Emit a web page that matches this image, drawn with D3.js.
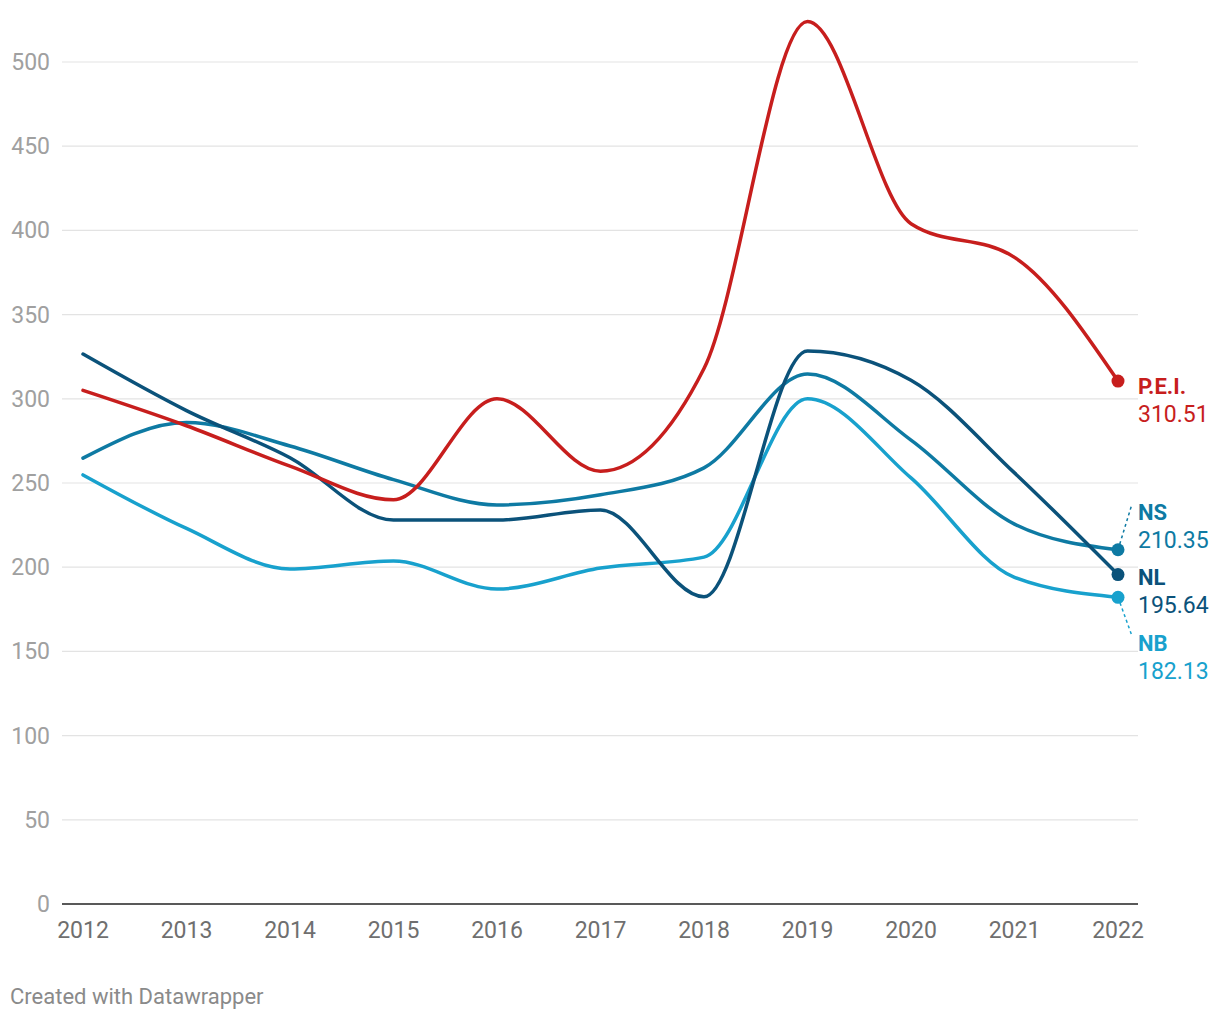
<!DOCTYPE html>
<html>
<head>
<meta charset="utf-8">
<script src="https://cdn.jsdelivr.net/npm/d3@7"></script>
<style>
 body { margin: 0; background: #fff; font-family: Roboto, sans-serif; }
</style>
</head>
<body>
<div id="chart"></div>
<script>
const years = [2012, 2013, 2014, 2015, 2016, 2017, 2018, 2019, 2020, 2021, 2022];
const pei = [305, 284, 260, 240, 300, 257, 318, 524, 404, 384, 310.51];
const nl = [326.6, 293, 265, 228, 228, 234, 182.5, 328.4, 311, 256, 195.64];
const ns = [264.8, 286, 272, 252, 237, 243, 259, 314.7, 275.5, 225.6, 210.35];
const nb = [254.8, 223, 199, 203.7, 187, 199.5, 206, 300, 253, 194, 182.13];
const yTicks = [0, 50, 100, 150, 200, 250, 300, 350, 400, 450, 500];

const seriesList = [
 { name: "NB", values: nb, color: "#18a1cd", labelY: 643 },
 { name: "NS", values: ns, color: "#0e7aa3", labelY: 512 },
 { name: "NL", values: nl, color: "#0b527a", labelY: 577 },
 { name: "P.E.I.", values: pei, color: "#c71e1d", labelY: 386 }
];

const width = 1220, height = 1020;
const svg = d3.select("#chart").append("svg")
 .attr("width", width).attr("height", height);

const x = d3.scaleLinear().domain([2012, 2022]).range([83, 1118]);
const y = d3.scaleLinear().domain([0, 500]).range([904, 62]);

// grid
svg.append("g").selectAll("line").data(yTicks.filter(d => d > 0)).enter()
 .append("line")
 .attr("x1", 62).attr("x2", 1138)
 .attr("y1", d => y(d)).attr("y2", d => y(d))
 .attr("stroke", "#e3e3e3").attr("stroke-width", 1.2);

svg.append("g").selectAll("text").data(yTicks).enter()
 .append("text")
 .attr("x", 50).attr("y", d => y(d) + 8)
 .attr("text-anchor", "end")
 .style("font-size", "23px").style("fill", "#a0a0a0")
 .text(d => d);

svg.append("line")
 .attr("x1", 62).attr("x2", 1138)
 .attr("y1", y(0)).attr("y2", y(0))
 .attr("stroke", "#222").attr("stroke-width", 1.5);

svg.append("g").selectAll("text").data(years).enter()
 .append("text")
 .attr("x", d => x(d)).attr("y", 938)
 .attr("text-anchor", "middle")
 .style("font-size", "23px").style("fill", "#6f6f6f")
 .text(d => d);

const line = d3.line()
 .x((d, i) => x(years[i]))
 .y(d => y(d))
 .curve(d3.curveMonotoneX);

seriesList.forEach(s => {
 svg.append("path")
  .attr("d", line(s.values))
  .attr("fill", "none")
  .attr("stroke", s.color)
  .attr("stroke-width", 3.5)
  .attr("stroke-linejoin", "round")
  .attr("stroke-linecap", "round");
});

// end labels
seriesList.forEach(s => {
 const last = s.values[s.values.length - 1];
 const cx = x(2022), cy = y(last);
 if (s.name === "NS" || s.name === "NB") {
  svg.append("line")
   .attr("x1", cx).attr("y1", cy)
   .attr("x2", 1132).attr("y2", s.name === "NS" ? 504 : 636)
   .attr("stroke", s.color).attr("stroke-width", 1.5)
   .attr("stroke-dasharray", "3,3");
 }
 svg.append("circle")
  .attr("cx", cx).attr("cy", cy).attr("r", 6.5)
  .attr("fill", s.color);
 const t = svg.append("text")
  .attr("x", 1138).attr("y", s.labelY + 8)
  .style("font-size", "22px").style("fill", s.color);
 t.append("tspan").style("font-weight", "bold").text(s.name);
 t.append("tspan").attr("x", 1138).attr("dy", 28).style("font-size", "23px")
  .text(d3.format(".2f")(last));
});

svg.append("text")
 .attr("x", 10).attr("y", 1004)
 .style("font-size", "22px").style("fill", "#8a8a8a")
 .text("Created with Datawrapper");
</script>
</body>
</html>
